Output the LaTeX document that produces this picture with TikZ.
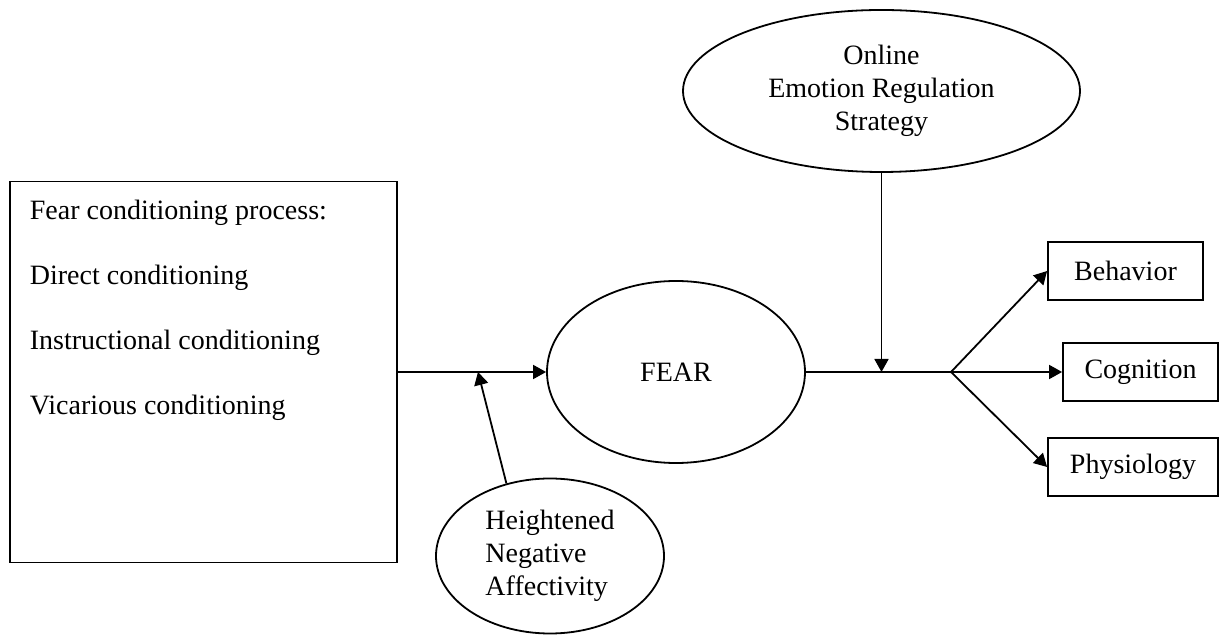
\documentclass[tikz,border=0pt]{standalone}
\usepackage{fontspec}
\setmainfont{Liberation Serif}
\usetikzlibrary{positioning, shapes.geometric, arrows.meta}

\begin{document}
\begin{tikzpicture}[x=0.5pt, y=-0.5pt, line width=0.9pt, font=\fontsize{14}{16.5}\selectfont,
	e/.style={ellipse, draw, inner sep=1pt},
	b/.style={rectangle, draw, minimum height=29pt},
	a/.style={-{Triangle[length=6.5pt, width=7pt]}}]
		\useasboundingbox (0,0) rectangle (1222,635);

		\node[b, minimum width=193.5pt, minimum height=190.5pt] (cond) at (203.5,372) {};
		\node[anchor=north west, inner sep=0pt, align=left, font=\fontsize{14}{32.5}\selectfont] (cond_label) at (29,199) {Fear conditioning process:\\Direct conditioning\\Instructional conditioning\\Vicarious conditioning};
		\node[e, minimum width=129pt, minimum height=91pt] (fear) at (676,372) {FEAR};
		\node[e, minimum width=114pt, minimum height=77.5pt, align=left] (neg) at (550,556) {Heightened\\Negative\\Affectivity};
		\node[e, minimum width=198.5pt, minimum height=81pt, align=center] (reg) at (881.5,91) {Online\\Emotion Regulation\\Strategy};
		\node[b, minimum width=77.5pt] (beh) at (1125.5,271) {Behavior};
		\node[b, minimum width=77.5pt] (cog) at (1140.5,372) {Cognition};
		\node[b, minimum width=85pt] (phy) at (1133,467) {Physiology};

		\coordinate (h) at (478,372);
		\coordinate (m) at (881.5,372);
		\coordinate (j) at (951,372);

		\path[a] (cond) edge (fear);
		\path[a] (neg.121) edge (h);
		\path[a] (reg) edge (m);
		\draw (fear) -- (j);
		\path[a] (j) edge (beh.west);
		\path[a] (j) edge (cog.west);
		\path[a] (j) edge (phy.west);
	\end{tikzpicture}
\end{document}
